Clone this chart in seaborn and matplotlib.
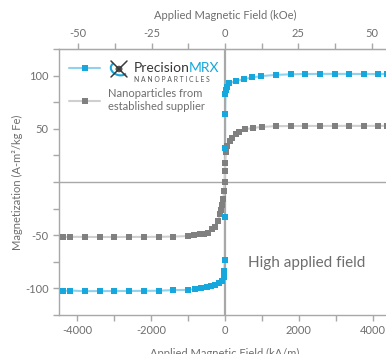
import numpy as np
import pandas as pd
import matplotlib
matplotlib.use("Agg")
import matplotlib.pyplot as plt
import seaborn as sns
from matplotlib.lines import Line2D
from matplotlib.patches import Arc, Circle

# ---- data ----
mrx_field = [-4400, -4200, -3800, -3400, -3000, -2600, -2200, -1800, -1400, -1000,
             -800, -650, -500, -370, -270, -160, -90, -40, -15, -3,
             -0.5, 0.5, 3, 12, 25, 45, 100, 300, 520, 740,
             980, 1380, 1790, 2180, 2580, 2970, 3370, 3760, 4160, 4400]
mrx_mag = [-102.5, -102.0, -102.6, -102.5, -102.5, -102.4, -102.3, -102.2, -101.6, -101.4,
           -100.5, -99.5, -98.5, -97.5, -96.5, -95.2, -93.0, -89.0, -84.0, -73.4,
           -33.0, 32.0, 63.5, 83.0, 86.5, 89.5, 92.7, 95.0, 96.7, 98.3,
           99.5, 100.7, 101.2, 101.5, 101.6, 101.6, 101.6, 101.5, 101.5, 101.6]

sup_field = [-4400, -4200, -3800, -3400, -3000, -2600, -2200, -1800, -1400, -1000,
             -840, -690, -570, -460, -354, -272, -190, -136, -110, -80,
             -45, -30, -10, 0, 3, 27, 54, 128, 190, 290,
             380, 545, 760, 1000, 1380, 1790, 2180, 2580, 2970, 3370,
             3760, 4160, 4400]
sup_mag = [-51.8, -51.5, -51.6, -51.7, -51.7, -51.6, -51.6, -51.5, -51.3, -50.8,
           -50.0, -49.3, -48.7, -47.5, -44.0, -42.0, -37.0, -29.7, -26.0, -22.0,
           -15.6, -8.8, 0.0, 10.6, 18.0, 28.4, 34.0, 38.7, 41.8, 45.2,
           47.4, 49.6, 50.8, 51.8, 52.5, 52.6, 52.7, 52.7, 52.7, 52.8,
           52.7, 52.8, 52.8]

x_ticks = [-4000, -2000, 0, 2000, 4000]
y_ticks = [-100, -50, 50, 100]
koe_ticks = [-50, -25, 0, 25, 50]
label_mrx = " "
label_sup = "Nanoparticles from\nestablished supplier"
annotation = "High applied field"

# ---- style ----
sns.set_style("ticks")
plt.rcParams['font.family'] = ['Lato', 'DejaVu Sans']
TXT = "#6e6e6e"
AX = "#a8a8a8"
BLUE = "#16a8dd"
BLUE_LINE = "#8fd2ee"
GRAY = "#808080"
GRAY_LINE = "#cfcfcf"

fig = plt.figure(figsize=(3.86, 3.54), dpi=100)
W, H = 386, 354
ax = fig.add_axes([59 / W, 1 - 315 / H, (391 - 59) / W, (315 - 49) / H])

df_sup = pd.DataFrame({"field": sup_field, "mag": sup_mag})
df_mrx = pd.DataFrame({"field": mrx_field, "mag": mrx_mag})

mk = dict(marker="s", markersize=4.6, markeredgewidth=0)
sns.lineplot(data=df_mrx, x="field", y="mag", ax=ax, sort=False, estimator=None,
             color=BLUE_LINE, lw=1.5, markerfacecolor=BLUE, markeredgecolor=BLUE,
             label=label_mrx, zorder=1, **mk)
sns.lineplot(data=df_sup, x="field", y="mag", ax=ax, sort=False, estimator=None,
             color=GRAY_LINE, lw=1.5, markerfacecolor=GRAY, markeredgecolor=GRAY,
             label=label_sup, zorder=3, **mk)
sns.scatterplot(data=df_mrx, x="field", y="mag", ax=ax, marker="s", s=21,
                color=BLUE, linewidth=0, zorder=4, legend=False)

ax.axhline(0, color=AX, lw=1, zorder=0.5)
ax.axvline(0, color=AX, lw=1.6, zorder=1.5)

ax.set_xlim(-4500, 4500)
ax.set_ylim(-125, 125)
ax.set_xticks(x_ticks)
ax.set_xticks(np.arange(-4000, 4001, 1000), minor=True)
ax.set_yticks(y_ticks)
ax.set_yticks(np.arange(-125, 126, 25), minor=True)
ax.tick_params(which="both", colors=AX, labelcolor=TXT, labelsize=8, length=4, width=1)
ax.set_xticklabels([str(t) for t in x_ticks])
ax.set_yticklabels([str(t) for t in y_ticks])

for side in ["left", "bottom", "top"]:
    ax.spines[side].set_color(AX)
    ax.spines[side].set_linewidth(1)
ax.spines["right"].set_visible(False)

ax.set_xlabel("Applied Magnetic Field (kA/m)", color=TXT, fontsize=8, labelpad=8.5)
ax.set_ylabel("Magnetization (A-m²/kg Fe)", color=TXT, fontsize=8, labelpad=1.5)

conv = 79.577
sec = ax.secondary_xaxis("top", functions=(lambda v: v / conv, lambda v: v * conv))
sec.set_xticks(koe_ticks)
sec.set_xticks(np.arange(-50, 51, 12.5), minor=True)
sec.set_xticklabels([str(t) for t in koe_ticks])
sec.tick_params(which="both", colors=AX, labelcolor=TXT, labelsize=8, length=4, width=1)
sec.spines["top"].set_color(AX)
sec.set_xlabel("Applied Magnetic Field (kOe)", color=TXT, fontsize=8, labelpad=6)

# legend
leg = ax.legend(loc="upper left", bbox_to_anchor=(0.0, 0.985), frameon=False,
                fontsize=8, handlelength=2.8, handletextpad=0.7, labelspacing=1.3,
                borderaxespad=0.5)
for t in leg.get_texts():
    t.set_color(TXT)

# logo (text + simple icon)
t1 = fig.text(134 / W, 1 - 68 / H, "Precision", fontsize=10, color="#383838",
              va="center", ha="left")
ax.annotate("MRX", xy=(0.985, 0), xycoords=t1, fontsize=10, color=BLUE,
            va="bottom", ha="left")
fig.text(134 / W, 1 - 79 / H, "N A N O P A R T I C L E S", fontsize=4.9,
         color="#555555", va="center", ha="left")
tf = fig.transFigure
def px(x, y):
    return (x / W, 1 - y / H)
for (x0, y0, x1, y1) in [(111, 61, 127, 77), (111, 77, 127, 61)]:
    a, b = px(x0, y0), px(x1, y1)
    fig.add_artist(Line2D([a[0], b[0]], [a[1], b[1]], transform=tf,
                          color="#3a3a3a", lw=1.1))
fig.add_artist(Arc(px(119, 69), 17 / W, 12 / H, angle=-25, theta1=160, theta2=350,
                   transform=tf, color=BLUE, lw=1.5))
fig.add_artist(Circle(px(119, 69), 2.8 / W, transform=tf, color="#555555"))

ax.text(0.57, 0.197, annotation, transform=ax.transAxes, fontsize=11,
        color=TXT, ha="left", va="center")

fig.savefig("out.png", dpi=100)
